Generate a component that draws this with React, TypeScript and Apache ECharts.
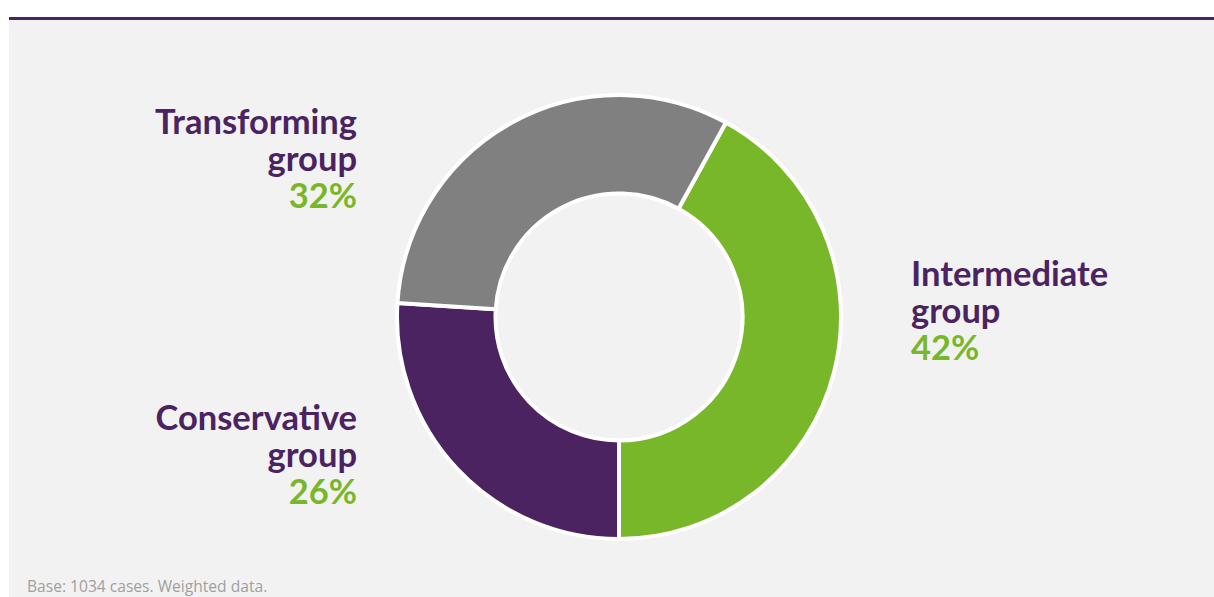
import React, { useEffect, useRef } from "react";
import * as echarts from "echarts";

const categories = ["Intermediate group", "Conservative group", "Transforming group"];
const values = [42, 26, 32];
const colors = ["#78b72a", "#4a2360", "#808080"];
const footnote = "Base: 1034 cases. Weighted data.";

const PURPLE = "#4a2360";
const GREEN = "#78b72a";

// label anchor positions (layout only)
const labelPos = [
  { x: 911, y: 309, align: "left" },
  { x: 357, y: 453, align: "right" },
  { x: 357, y: 157, align: "right" },
];

export default function App() {
  const ref = useRef<HTMLDivElement>(null);
  useEffect(() => {
    if (!ref.current) return;
    const chart = echarts.init(ref.current, undefined, { renderer: "svg" });
    const font = "Lato, 'Open Sans', sans-serif";
    chart.setOption({
      animation: false,
      backgroundColor: "#ffffff",
      graphic: [
        {
          type: "rect",
          shape: { x: 9, y: 20, width: 1205, height: 577 },
          style: { fill: "#f2f2f2" },
          z: -10,
        },
        {
          type: "rect",
          shape: { x: 9, y: 17, width: 1205, height: 3 },
          style: { fill: PURPLE },
          z: -10,
        },
        {
          type: "text",
          x: 27,
          y: 586,
          style: {
            text: footnote,
            fill: "#a0a0a0",
            font: `15.6px 'Open Sans', sans-serif`,
            textVerticalAlign: "middle",
          },
        },
      ],
      series: [
        {
          type: "pie",
          center: [619, 317],
          radius: [123.5, 222],
          startAngle: 61.2,
          clockwise: true,
          itemStyle: { borderColor: "#ffffff", borderWidth: 4 },
          emphasis: { disabled: true },
          labelLine: { show: false },
          data: categories.map((c, i) => ({
            name: c,
            value: values[i],
            itemStyle: { color: colors[i] },
          })),
          label: {
            show: true,
            position: "outside",
            formatter: (p: any) =>
              p.name
                .split(" ")
                .map((w: string) => `{n|${w}}`)
                .join("\n") + `\n{p|${p.value}%}`,
            rich: {
              n: {
                fontFamily: font,
                fontWeight: "bold",
                fontSize: 34.5,
                lineHeight: 37,
                color: PURPLE,
              },
              p: {
                fontFamily: font,
                fontWeight: "bold",
                fontSize: 34.5,
                lineHeight: 37,
                color: GREEN,
              },
            },
          },
          labelLayout: (params: any) => {
            const lp = labelPos[params.dataIndex];
            return {
              x: lp.x,
              y: lp.y,
              align: lp.align,
              verticalAlign: "middle",
              hideOverlap: false,
            };
          },
        },
      ],
    });
    return () => chart.dispose();
  }, []);
  return (
    <div
      ref={ref}
      style={{ position: "fixed", left: 0, top: 0, width: 1214, height: 597 }}
    />
  );
}
